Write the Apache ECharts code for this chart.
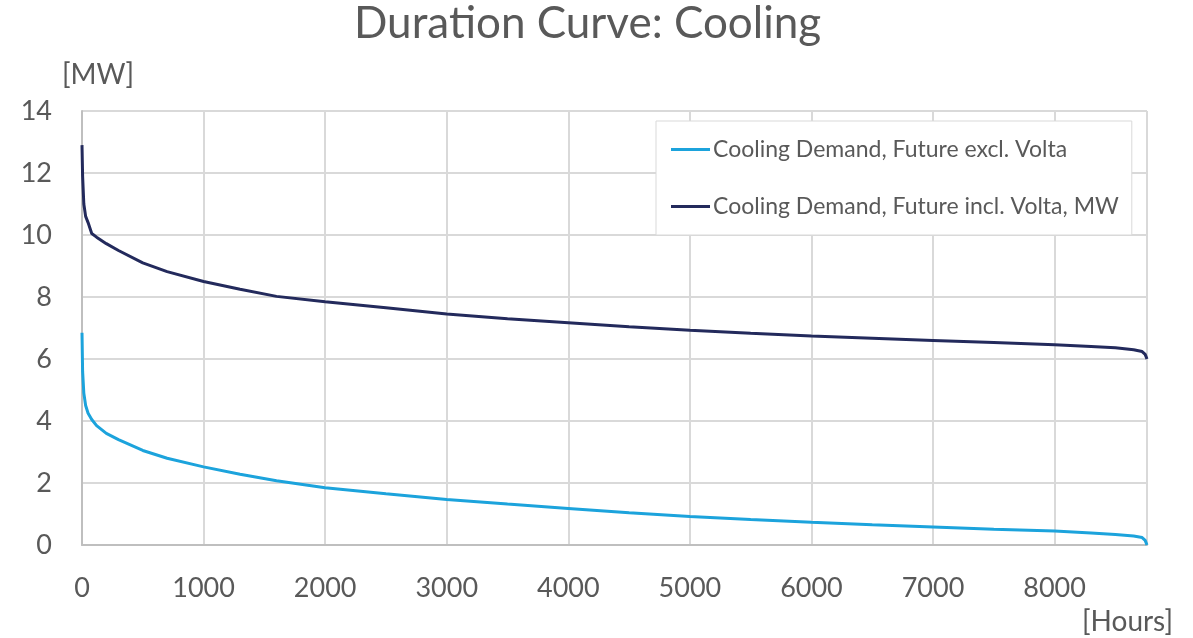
<!DOCTYPE html>
<html>
<head>
<meta charset="utf-8">
<script src="https://cdn.jsdelivr.net/npm/echarts@6/dist/echarts.min.js"></script>
<style>
html,body{margin:0;padding:0;background:#fff;}
#chart{width:1193px;height:638px;}
</style>
</head>
<body>
<div id="chart"></div>
<script>
const hours = [0, 5, 15, 30, 50, 80, 120, 200, 300, 500, 700, 1000, 1300, 1600, 2000, 2500, 3000, 3500, 4000, 4500, 5000, 5500, 6000, 6500, 7000, 7500, 8000, 8300, 8500, 8650, 8720, 8745, 8760];
const coolingExcl = [6.85, 5.6, 4.9, 4.5, 4.25, 4.05, 3.85, 3.6, 3.4, 3.05, 2.8, 2.52, 2.28, 2.07, 1.85, 1.65, 1.47, 1.32, 1.18, 1.04, 0.92, 0.82, 0.73, 0.65, 0.58, 0.51, 0.45, 0.39, 0.34, 0.29, 0.24, 0.15, 0.0];
const coolingIncl = [12.9, 11.9, 11.0, 10.6, 10.4, 10.05, 9.93, 9.72, 9.5, 9.1, 8.82, 8.5, 8.25, 8.02, 7.85, 7.65, 7.45, 7.3, 7.17, 7.04, 6.93, 6.83, 6.74, 6.67, 6.6, 6.53, 6.46, 6.4, 6.36, 6.3, 6.24, 6.15, 6.0];
const seriesNames = ['Cooling Demand, Future excl. Volta', 'Cooling Demand, Future incl. Volta, MW'];
const xTicks = {min: 0, max: 8760, interval: 1000};
const yTicks = {min: 0, max: 14, interval: 2};

const pair = (vals) => hours.map((h, i) => [h, vals[i]]);
const font = 'Lato, "Open Sans", sans-serif';
const grey = '#595959';

const chart = echarts.init(document.getElementById('chart'), null, {renderer: 'canvas'});
chart.setOption({
  animation: false,
  backgroundColor: '#ffffff',
  textStyle: {fontFamily: font},
  title: [
    {text: 'Duration Curve: Cooling', left: 349, top: -3,
     textStyle: {fontFamily: font, fontSize: 44, fontWeight: 'normal', color: grey}},
    {text: '[MW]', left: 57, top: 56,
     textStyle: {fontFamily: font, fontSize: 28, fontWeight: 'normal', color: grey}},
    {text: '[Hours]', left: 1077, top: 603,
     textStyle: {fontFamily: font, fontSize: 28, fontWeight: 'normal', color: grey}}
  ],
  grid: {left: 82, right: 46, top: 111, bottom: 93, containLabel: false},
  legend: {
    orient: 'vertical', left: 656, top: 121,
    backgroundColor: '#ffffff', borderColor: '#d9d9d9', borderWidth: 1,
    padding: [17, 13, 17, 15],
    itemGap: 34, itemWidth: 39, itemHeight: 3, icon: 'rect',
    textStyle: {fontFamily: font, fontSize: 23, color: grey, padding: [0, 0, 0, -2]},
    data: seriesNames
  },
  xAxis: {
    type: 'value', min: xTicks.min, max: xTicks.max, interval: xTicks.interval,
    axisLine: {show: true, lineStyle: {color: '#bfbfbf', width: 2}},
    axisTick: {show: false},
    axisLabel: {color: grey, fontSize: 27, margin: 30, showMaxLabel: false, fontFamily: font,
      formatter: (v) => String(v)},
    splitLine: {show: true, lineStyle: {color: '#d9d9d9', width: 2}}
  },
  yAxis: {
    type: 'value', min: yTicks.min, max: yTicks.max, interval: yTicks.interval,
    axisLine: {show: true, lineStyle: {color: '#bfbfbf', width: 2}},
    axisTick: {show: false},
    axisLabel: {color: grey, fontSize: 27, margin: 30, fontFamily: font},
    splitLine: {show: true, lineStyle: {color: '#d9d9d9', width: 2}}
  },
  series: [
    {name: seriesNames[0], type: 'line', data: pair(coolingExcl), symbol: 'none',
     smooth: false,
     lineStyle: {color: '#1ca3dc', width: 3}, itemStyle: {color: '#1ca3dc'}},
    {name: seriesNames[1], type: 'line', data: pair(coolingIncl), symbol: 'none',
     smooth: false,
     lineStyle: {color: '#232a5c', width: 3}, itemStyle: {color: '#232a5c'}}
  ]
});
</script>
</body>
</html>
